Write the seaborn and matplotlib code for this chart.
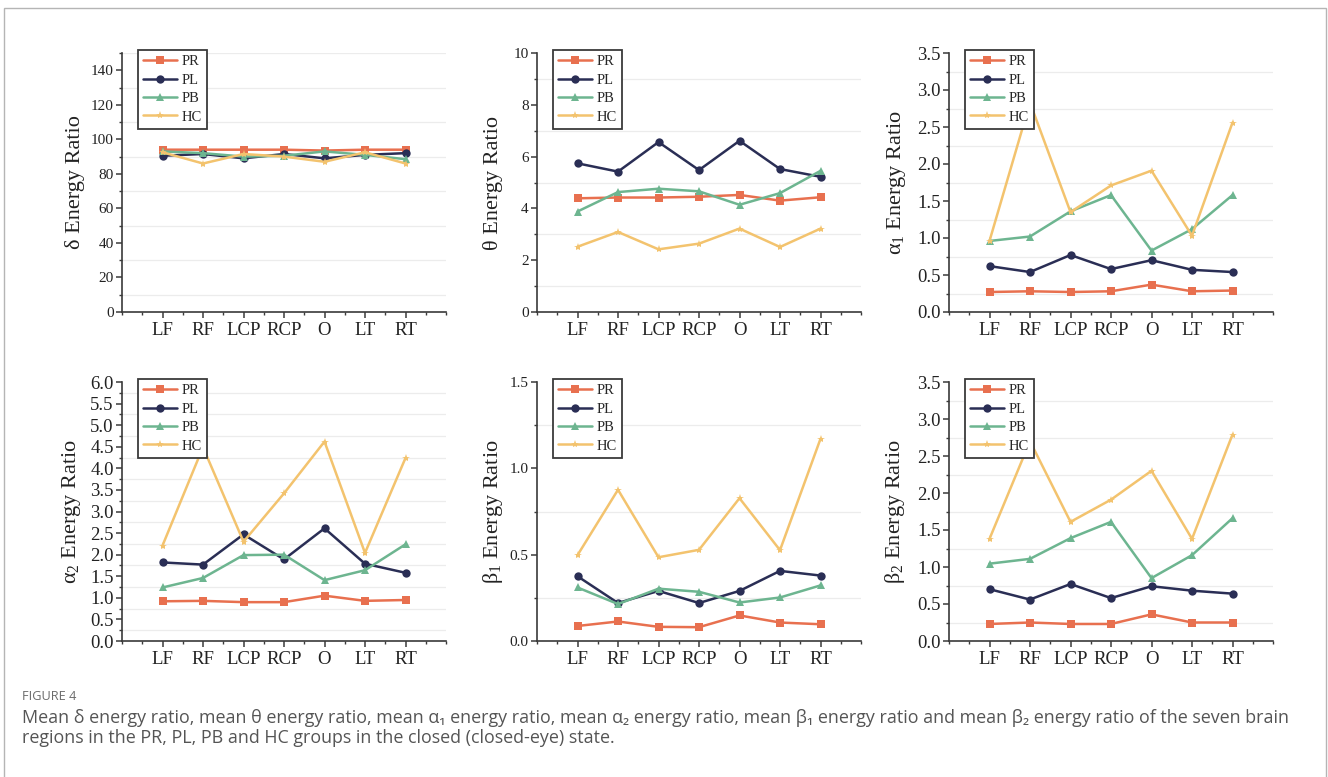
import matplotlib
matplotlib.use("Agg")
import numpy as np
import pandas as pd
import matplotlib.pyplot as plt
import seaborn as sns
from matplotlib.ticker import MultipleLocator, FormatStrFormatter
from matplotlib.lines import Line2D
from matplotlib.patches import Rectangle

# --- data ---
regions = ["LF", "RF", "LCP", "RCP", "O", "LT", "RT"]
groups = ["PR", "PL", "PB", "HC"]

delta_PR = [94.0, 94.0, 94.0, 94.0, 93.5, 94.0, 94.0]
delta_PL = [90.5, 91.5, 89.0, 91.5, 89.0, 91.0, 92.0]
delta_PB = [93.0, 92.0, 90.0, 90.5, 93.0, 91.0, 88.5]
delta_HC = [92.5, 86.0, 91.5, 90.0, 87.0, 92.5, 86.0]

theta_PR = [4.39, 4.42, 4.42, 4.45, 4.52, 4.30, 4.43]
theta_PL = [5.74, 5.42, 6.56, 5.48, 6.61, 5.52, 5.22]
theta_PB = [3.88, 4.63, 4.76, 4.66, 4.14, 4.59, 5.45]
theta_HC = [2.52, 3.09, 2.42, 2.64, 3.22, 2.51, 3.22]

alpha1_PR = [0.27, 0.28, 0.27, 0.28, 0.37, 0.28, 0.29]
alpha1_PL = [0.62, 0.54, 0.77, 0.58, 0.70, 0.57, 0.54]
alpha1_PB = [0.96, 1.02, 1.36, 1.58, 0.83, 1.12, 1.58]
alpha1_HC = [0.96, 2.83, 1.35, 1.71, 1.91, 1.03, 2.56]

alpha2_PR = [0.92, 0.93, 0.90, 0.90, 1.05, 0.93, 0.95]
alpha2_PL = [1.82, 1.77, 2.47, 1.89, 2.61, 1.79, 1.58]
alpha2_PB = [1.24, 1.46, 1.99, 2.00, 1.41, 1.64, 2.24]
alpha2_HC = [2.21, 4.49, 2.30, 3.42, 4.62, 2.04, 4.24]

beta1_PR = [0.087, 0.113, 0.082, 0.080, 0.148, 0.107, 0.097]
beta1_PL = [0.375, 0.220, 0.290, 0.220, 0.290, 0.406, 0.379]
beta1_PB = [0.310, 0.214, 0.303, 0.285, 0.223, 0.252, 0.322]
beta1_HC = [0.497, 0.876, 0.485, 0.528, 0.827, 0.526, 1.171]

beta2_PR = [0.23, 0.25, 0.23, 0.23, 0.36, 0.25, 0.25]
beta2_PL = [0.70, 0.56, 0.77, 0.58, 0.74, 0.68, 0.64]
beta2_PB = [1.045, 1.11, 1.39, 1.61, 0.85, 1.16, 1.66]
beta2_HC = [1.38, 2.70, 1.61, 1.91, 2.30, 1.38, 2.79]

colors = {"PR": "#E8704F", "PL": "#2A2E55", "PB": "#6DB590", "HC": "#F3C36E"}
markers = {"PR": "s", "PL": "o", "PB": "^", "HC": "*"}

# label, series, ymax, major step, ytick size, label x (axes coords)
panels = [
    ("δ Energy Ratio", [delta_PR, delta_PL, delta_PB, delta_HC], 150, 20, 11, -0.115),
    ("θ Energy Ratio", [theta_PR, theta_PL, theta_PB, theta_HC], 10, 2, 11, -0.105),
    ("α$_1$ Energy Ratio", [alpha1_PR, alpha1_PL, alpha1_PB, alpha1_HC], 3.5, 0.5, 13.5, -0.127),
    ("α$_2$ Energy Ratio", [alpha2_PR, alpha2_PL, alpha2_PB, alpha2_HC], 6.0, 0.5, 13.5, -0.12),
    ("β$_1$ Energy Ratio", [beta1_PR, beta1_PL, beta1_PB, beta1_HC], 1.5, 0.5, 11, -0.10),
    ("β$_2$ Energy Ratio", [beta2_PR, beta2_PL, beta2_PB, beta2_HC], 3.5, 0.5, 13.5, -0.13),
]

sns.set_style("ticks")
serif = ["Liberation Serif", "DejaVu Serif"]
plt.rcParams["font.family"] = serif
plt.rcParams["mathtext.fontset"] = "custom"
plt.rcParams["mathtext.rm"] = "Liberation Serif"
plt.rcParams["mathtext.it"] = "Liberation Serif:italic"
plt.rcParams["axes.edgecolor"] = "#3a3a3a"

W, H = 1328, 777
fig = plt.figure(figsize=(W / 100, H / 100), dpi=100)

col_left = [122, 537, 949]
row_top = [53, 382]
ax_w, ax_h = 324, 259

for i, (ylabel, series, ymax, step, tsize, lx) in enumerate(panels):
    r, c = divmod(i, 3)
    ax = fig.add_axes([col_left[c] / W, 1 - (row_top[r] + ax_h) / H, ax_w / W, ax_h / H])

    df = pd.DataFrame({
        "region": regions * len(groups),
        "group": np.repeat(groups, len(regions)),
        "value": np.concatenate(series),
    })
    sns.lineplot(data=df, x="region", y="value", hue="group", style="group",
                 palette=colors, markers=markers, dashes=False, sort=False,
                 linewidth=1.8, markersize=6, markeredgewidth=0, legend=False, ax=ax)

    ax.set_xlim(-1, 7)
    ax.set_ylim(0, ymax)
    ax.yaxis.set_major_locator(MultipleLocator(step))
    ax.yaxis.set_minor_locator(MultipleLocator(step / 2))
    ax.xaxis.set_minor_locator(MultipleLocator(0.5))
    ax.yaxis.set_major_formatter(FormatStrFormatter("%d" if step >= 1 else "%.1f"))
    ax.grid(False, which="major")
    ax.yaxis.grid(True, which="minor", color="#ececec", linewidth=0.9)
    ax.set_axisbelow(True)

    ax.tick_params(axis="both", which="major", direction="out", length=4, width=1.1, color="#3a3a3a")
    ax.tick_params(axis="both", which="minor", direction="out", length=2.5, width=1.0, color="#3a3a3a")
    ax.tick_params(axis="x", labelsize=13.5, pad=3, labelcolor="#222222")
    ax.tick_params(axis="y", labelsize=tsize, pad=2, labelcolor="#222222")
    for lab in ax.get_xticklabels() + ax.get_yticklabels():
        lab.set_fontfamily(serif)
    for s in ["left", "bottom"]:
        ax.spines[s].set_linewidth(1.2)
    sns.despine(ax=ax)

    ax.set_xlabel("")
    ax.set_ylabel(ylabel, fontsize=16, color="#222222")
    ax.yaxis.set_label_coords(lx, 0.5)

    handles = [Line2D([], [], color=colors[g], marker=markers[g], markersize=6,
                      markeredgewidth=0, linewidth=1.8) for g in groups]
    leg = ax.legend(handles, groups, loc="upper left", bbox_to_anchor=(0.05, 1.012),
                    frameon=True, fancybox=False, framealpha=1, edgecolor="#3a3a3a",
                    prop={"family": serif, "size": 10.5},
                    handlelength=2.3, labelspacing=0.36, borderpad=0.35,
                    handletextpad=0.3, borderaxespad=0)
    leg.get_frame().set_linewidth(1.3)

# outer frame of the figure panel
fig.add_artist(Rectangle((4 / W, -0.1), 1322 / W, 1.1 - 8 / H, transform=fig.transFigure,
                         fill=False, edgecolor="#b5b5b5", linewidth=1.0, clip_on=False))

cap_font = ["Open Sans", "DejaVu Sans"]
fig.text(22 / W, 1 - 697 / H, "FIGURE 4", family=cap_font, fontsize=9.2,
         color="#6b6b6b", va="center", ha="left")
fig.text(22 / W, 1 - 718 / H,
         "Mean δ energy ratio, mean θ energy ratio, mean α₁ energy ratio, mean α₂ energy ratio, "
         "mean β₁ energy ratio and mean β₂ energy ratio of the seven brain",
         family=cap_font, fontsize=12.9, color="#555555", va="center", ha="left")
fig.text(22 / W, 1 - 738 / H,
         "regions in the PR, PL, PB and HC groups in the closed (closed-eye) state.",
         family=cap_font, fontsize=12.9, color="#555555", va="center", ha="left")

fig.savefig("out.png", dpi=100, facecolor="white")
